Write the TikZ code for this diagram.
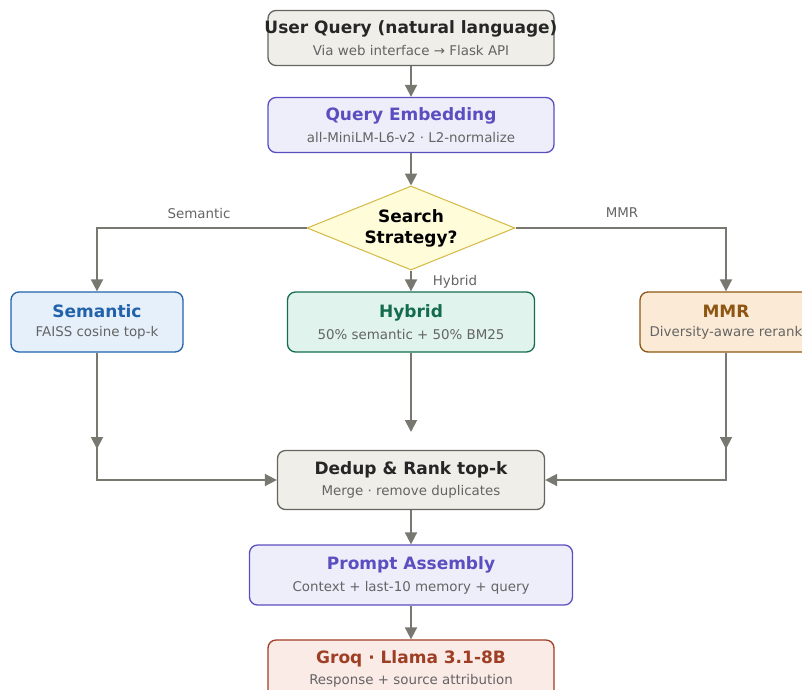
\documentclass[tikz,border=0pt]{standalone}
\usepackage{fontspec}
\setmainfont{DejaVu Sans}
\usetikzlibrary{
  arrows.meta,
  positioning,
  shapes.geometric,
}
\tikzset{
  >={Triangle[width=12pt,length=12pt]},
}
\definecolor{rag_line}{RGB}{120,120,112}
\definecolor{rag_sub}{RGB}{100,100,100}
\definecolor{rag_stone}{RGB}{240,238,232}
\definecolor{rag_stone_edge}{RGB}{100,100,96}
\definecolor{rag_violet}{RGB}{90,78,192}
\definecolor{rag_violet_bg}{RGB}{238,238,251}
\definecolor{rag_gold}{RGB}{212,184,70}
\definecolor{rag_gold_bg}{RGB}{255,252,218}
\definecolor{rag_blue}{RGB}{34,98,170}
\definecolor{rag_blue_bg}{RGB}{230,240,250}
\definecolor{rag_green}{RGB}{20,108,80}
\definecolor{rag_green_bg}{RGB}{224,243,236}
\definecolor{rag_brown}{RGB}{142,86,20}
\definecolor{rag_brown_bg}{RGB}{251,235,214}
\definecolor{rag_rust}{RGB}{158,62,36}
\definecolor{rag_rust_bg}{RGB}{251,235,230}

\newcommand{\stagetext}[3]{%
  {\color{#1}\fontsize{17}{19}\selectfont\bfseries #2}\\[7pt]%
  {\color{rag_sub}\fontsize{13.4}{15}\selectfont #3}}

\begin{document}
\begin{tikzpicture}[x=1pt, y=-1pt,
    stage/.style={draw, rounded corners=8pt, line width=1.3pt, align=center,
      minimum height=58pt, inner sep=0pt},
    link/.style={->, draw=rag_line, line width=1.8pt},
    branch/.style={font=\fontsize{13.4}{15}\selectfont, text=rag_sub},
  ]
    \useasboundingbox (0,0) rectangle (802,689);
    \clip (0,0) rectangle (802,689);

    % input and embedding (title is wider than its box)
    \node[stage, fill=rag_stone, draw=rag_stone_edge, minimum width=286pt, minimum height=55pt] (query) at (411,38)
      {\stagetext{black!85}{\makebox[270pt]{User Query (natural language)}}{Via web interface → Flask API}};
    \node[stage, fill=rag_violet_bg, draw=rag_violet, minimum width=286pt, minimum height=55pt] (embed) at (411,125)
      {\stagetext{rag_violet}{Query Embedding}{all-MiniLM-L6-v2 · L2-normalize}};

    % the decision
    \node[diamond, aspect=2.5, draw=rag_gold, fill=rag_gold_bg, line width=1pt, minimum width=208pt,
      minimum height=84pt, inner sep=0pt, align=center,
      font=\fontsize{17}{21}\selectfont\bfseries] (strategy) at (411,228) {Search\\Strategy?};

    % three retrievers
    \node[stage, fill=rag_blue_bg, draw=rag_blue, minimum width=172pt, minimum height=60pt] (semantic) at (97,322)
      {\stagetext{rag_blue}{Semantic}{FAISS cosine top-k}};
    \node[stage, fill=rag_green_bg, draw=rag_green, minimum width=247pt, minimum height=60pt] (hybrid) at (411,322)
      {\stagetext{rag_green}{Hybrid}{50\% semantic + 50\% BM25}};
    \node[stage, fill=rag_brown_bg, draw=rag_brown, minimum width=172pt, minimum height=60pt] (mmr) at (726,322)
      {\stagetext{rag_brown}{MMR}{Diversity-aware rerank}};

    % merge, prompt, llm
    \node[stage, fill=rag_stone, draw=rag_stone_edge, minimum width=267pt, minimum height=59pt] (dedup) at (411,480)
      {\stagetext{black!85}{Dedup \& Rank top-k}{Merge · remove duplicates}};
    \node[stage, fill=rag_violet_bg, draw=rag_violet, minimum width=323pt, minimum height=60pt] (prompt) at (411,575)
      {\stagetext{rag_violet}{Prompt Assembly}{Context + last-10 memory + query}};
    \node[stage, fill=rag_rust_bg, draw=rag_rust, minimum width=286pt, minimum height=58pt] (groq) at (411,669)
      {\stagetext{rag_rust}{Groq · Llama 3.1-8B}{Response + source attribution}};

    % straight links
    \draw[link] (query) -- (embed);
    \draw[link] (embed) -- (strategy);
    \draw[link] (strategy) -- (hybrid);
    \draw[link] (dedup) -- (prompt);
    \draw[link] (prompt) -- (groq);

    % branches out of the decision
    \draw[link] (strategy.west) -- (strategy.west -| semantic.north) -- (semantic.north);
    \draw[link] (strategy.east) -- (strategy.east -| mmr.north) -- (mmr.north);
    \node[branch] (semlabel) at (199,213) {Semantic};
    \node[branch] (mmrlabel) at (622,213) {MMR};
    \node[branch] (hyblabel) at (455,282) {Hybrid};

    % back into the merge step
    \coordinate (semmid) at (97,449);
    \coordinate (hybmid) at (411,432);
    \coordinate (mmrmid) at (726,449);
    \draw[link] (semantic.south) -- (semantic.south |- dedup.west) -- (dedup.west);
    \draw[link] (semantic) -- (semmid);
    \draw[link] (hybrid) -- (hybmid);
    \draw[link] (mmr.south) -- (mmr.south |- dedup.east) -- (dedup.east);
    \draw[link] (mmr) -- (mmrmid);
  \end{tikzpicture}
\end{document}
